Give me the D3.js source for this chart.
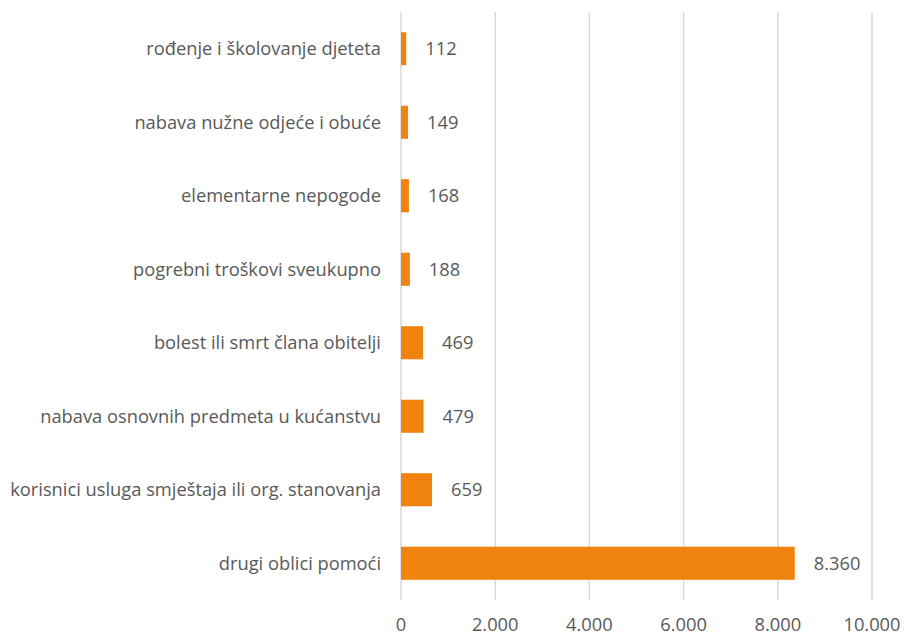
<!DOCTYPE html>
<html lang="hr">
<head>
<meta charset="UTF-8">
<title>Pomoći</title>
<script src="https://d3js.org/d3.v7.min.js"></script>
<style>
	body { margin: 0; background: #fff; }
	text { font-family: "Open Sans", sans-serif; fill: #595959; }
</style>
</head>
<body>
<svg id="chart" width="910" height="636"></svg>
<script>
const categories = [
	"rođenje i školovanje djeteta",
	"nabava nužne odjeće i obuće",
	"elementarne nepogode ",
	"pogrebni troškovi sveukupno",
	"bolest ili smrt člana obitelji",
	"nabava osnovnih predmeta u kućanstvu",
	"korisnici usluga smještaja ili org. stanovanja",
	"drugi oblici pomoći"
];
const values = [112, 149, 168, 188, 469, 479, 659, 8360];
const ticks = [0, 2000, 4000, 6000, 8000, 10000];

const margin = {left: 401, right: 38, top: 12, bottom: 36};
const width = 910, height = 636;
const fontSize = 18.3;

const svg = d3.select("#chart");
const fmt = d => d3.format(",")(d).replace(/,/g, ".");

const x = d3.scaleLinear().domain([0, 10000]).range([margin.left, width - margin.right]);
const y = d3.scaleBand().domain(categories).range([margin.top, height - margin.bottom]).paddingInner(0.55).paddingOuter(0.275);

// gridlines
svg.selectAll(".grid")
	.data(ticks)
	.enter()
	.append("line")
	.attr("x1", d => x(d))
	.attr("x2", d => x(d))
	.attr("y1", margin.top)
	.attr("y2", height - margin.bottom)
	.attr("stroke", "#d9d9d9")
	.attr("stroke-width", 1.5);

// bars
svg.selectAll(".bar")
	.data(values)
	.enter()
	.append("rect")
	.attr("x", x(0))
	.attr("y", (d, i) => y(categories[i]))
	.attr("width", d => x(d) - x(0))
	.attr("height", y.bandwidth())
	.attr("fill", "#f0820f");

// value labels
svg.selectAll(".val")
	.data(values)
	.enter()
	.append("text")
	.attr("x", d => x(d) + 19)
	.attr("y", (d, i) => y(categories[i]) + y.bandwidth() / 2)
	.attr("dy", "0.35em")
	.attr("font-size", fontSize)
	.text(d => fmt(d));

// category labels
svg.selectAll(".cat")
	.data(categories)
	.enter()
	.append("text")
	.attr("x", margin.left - 20)
	.attr("y", d => y(d) + y.bandwidth() / 2)
	.attr("dy", "0.35em")
	.attr("text-anchor", "end")
	.attr("font-size", fontSize)
	.text(d => d);

// x axis labels
svg.selectAll(".tick-label")
	.data(ticks)
	.enter()
	.append("text")
	.attr("x", d => x(d))
	.attr("y", 631)
	.attr("text-anchor", "middle")
	.attr("font-size", fontSize)
	.text(d => fmt(d));
</script>
</body>
</html>
